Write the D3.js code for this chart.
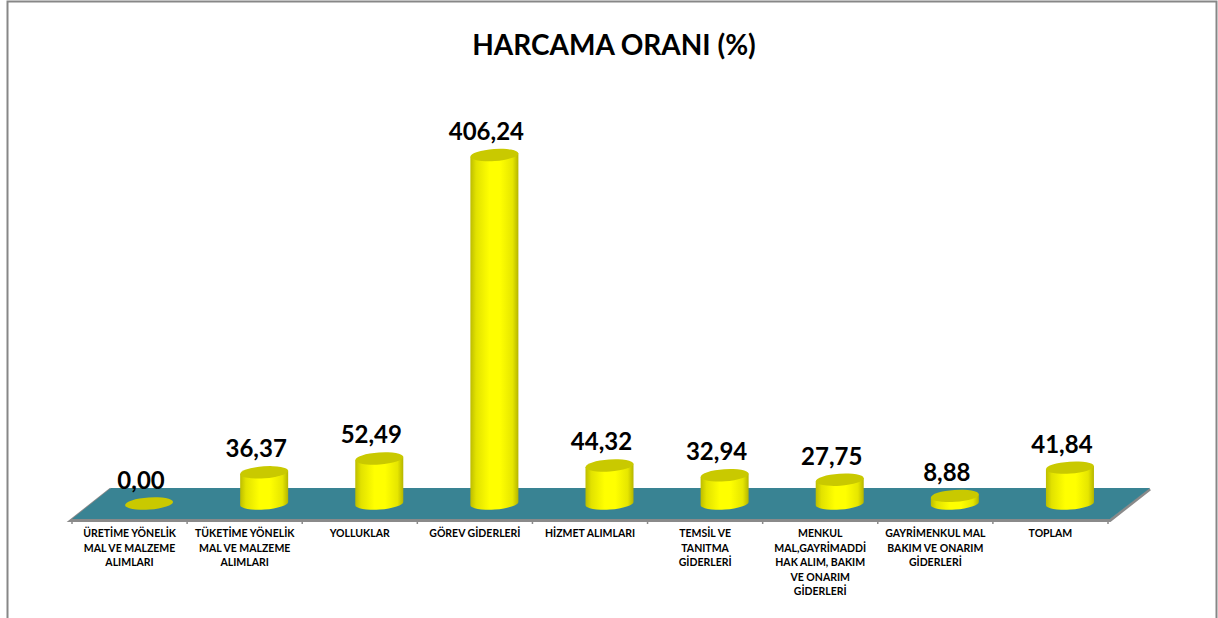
<!DOCTYPE html>
<html>
<head>
  <meta charset="utf-8">
  <title>Harcama Oranı</title>
  <script src="https://d3js.org/d3.v7.min.js"></script>
  <style>
    body { margin: 0; background: #fff; }
    text { font-family: Lato, "Open Sans", sans-serif; font-weight: bold; }
  </style>
</head>
<body>
<svg width="1218" height="618"></svg>
<script>
  const title = "HARCAMA ORANI (%)";
  const categories = [
    "ÜRETİME YÖNELİK\nMAL VE MALZEME\nALIMLARI",
    "TÜKETİME YÖNELİK\nMAL VE MALZEME\nALIMLARI",
    "YOLLUKLAR",
    "GÖREV GİDERLERİ",
    "HİZMET ALIMLARI",
    "TEMSİL VE\nTANITMA\nGİDERLERİ",
    "MENKUL\nMAL,GAYRİMADDİ\nHAK ALIM, BAKIM\nVE ONARIM\nGİDERLERİ",
    "GAYRİMENKUL MAL\nBAKIM VE ONARIM\nGİDERLERİ",
    "TOPLAM"
  ];
  const values = [0.00, 36.37, 52.49, 406.24, 44.32, 32.94, 27.75, 8.88, 41.84];

  const width = 1218;
  const height = 618;

  // floor front edge and depth offset (3d look)
  const floorLeft = 72, floorRight = 1108, floorY = 519;
  const depthX = 39, depthY = -31;

  const svg = d3.select("svg");

  // chart border
  svg.append("rect")
    .attr("x", 7.5).attr("y", 1.5)
    .attr("width", 1209).attr("height", 660)
    .attr("fill", "none")
    .attr("stroke", "#878787")
    .attr("stroke-width", 2);

  svg.append("text")
    .attr("x", 614).attr("y", 55)
    .attr("text-anchor", "middle")
    .attr("font-size", 28)
    .attr("fill", "#000")
    .text(title);

  const x = d3.scaleBand()
    .domain(categories)
    .range([floorLeft, floorRight])
    .padding(0);

  const y = d3.scaleLinear()
    .domain([0, 450])
    .range([0, 386]);

  // gradient for the cylinder sides
  const defs = svg.append("defs");
  const grad = defs.append("linearGradient")
    .attr("id", "cyl")
    .attr("x1", "0%").attr("x2", "100%")
    .attr("y1", "0%").attr("y2", "0%");
  grad.append("stop").attr("offset", "0%").attr("stop-color", "#bdbd00");
  grad.append("stop").attr("offset", "12%").attr("stop-color", "#e2e200");
  grad.append("stop").attr("offset", "40%").attr("stop-color", "#ffff00");
  grad.append("stop").attr("offset", "62%").attr("stop-color", "#ffff00");
  grad.append("stop").attr("offset", "88%").attr("stop-color", "#e6e600");
  grad.append("stop").attr("offset", "100%").attr("stop-color", "#b5b500");

  // floor slab
  const floorPts = [
    [floorLeft, floorY],
    [floorLeft + depthX, floorY + depthY],
    [floorRight + depthX + 3, floorY + depthY],
    [floorRight + 2, floorY]
  ];
  svg.append("polyline")
    .attr("points", [
      [floorLeft + depthX, floorY + depthY + 1],
      [floorLeft - 1, floorY + 1.5],
      [floorRight + 2, floorY + 1.5],
      [floorRight + depthX + 3, floorY + depthY + 1]
    ].map(p => p.join(",")).join(" "))
    .attr("fill", "none")
    .attr("stroke", "#8a8a8a")
    .attr("stroke-width", 3);
  svg.append("polygon")
    .attr("points", floorPts.map(p => p.join(",")).join(" "))
    .attr("fill", "#398393");

  // category ticks
  const ticks = categories.map(c => x(c)).concat([floorRight]);
  svg.selectAll(".tick")
    .data(ticks)
    .enter().append("line")
    .attr("class", "tick")
    .attr("x1", d => d).attr("x2", d => d)
    .attr("y1", floorY + 1).attr("y2", floorY + 5)
    .attr("stroke", "#8a8a8a")
    .attr("stroke-width", 1.5);

  // cylinders
  const rx = 24, ry = 6, tilt = -4;
  const bars = svg.selectAll(".bar")
    .data(values.map((v, i) => ({ value: v, cat: categories[i] })))
    .enter().append("g")
    .attr("class", "bar");

  const cx = d => x(d.cat) + x.bandwidth() / 2 + depthX / 2;
  const cy = floorY + depthY / 2;
  const topY = d => cy - y(d.value);

  bars.filter(d => d.value > 0).append("path")
    .attr("d", d => {
      const c = cx(d), t = topY(d);
      const a = tilt * Math.PI / 180;
      const dyl = -rx * Math.sin(a), dyr = rx * Math.sin(a);
      return "M" + (c - rx) + "," + (t + dyl) +
        "L" + (c - rx) + "," + (cy + dyl) +
        "A" + rx + "," + ry + " " + tilt + " 0 0 " + (c + rx) + "," + (cy + dyr) +
        "L" + (c + rx) + "," + (t + dyr) + "Z";
    })
    .attr("fill", "url(#cyl)");

  bars.append("ellipse")
    .attr("cx", d => cx(d))
    .attr("cy", d => topY(d))
    .attr("rx", rx)
    .attr("ry", ry)
    .attr("transform", d => "rotate(" + tilt + "," + cx(d) + "," + topY(d) + ")")
    .attr("fill", "#c9c900");

  // value labels
  bars.append("text")
    .attr("x", d => cx(d) - 8)
    .attr("y", d => topY(d) - ry - 9)
    .attr("text-anchor", "middle")
    .attr("font-size", 24)
    .attr("fill", "#000")
    .text(d => d3.format(".2f")(d.value).replace(".", ","));

  // category labels
  const labels = svg.selectAll(".cat")
    .data(categories)
    .enter().append("text")
    .attr("class", "cat")
    .attr("text-anchor", "middle")
    .attr("font-size", 10.5)
    .attr("fill", "#000");
  labels.each(function(d) {
    const t = d3.select(this);
    d.split("\n").forEach((line, i) => {
      t.append("tspan")
        .attr("x", x(d) + x.bandwidth() / 2)
        .attr("y", 537 + i * 14.5)
        .text(line);
    });
  });
</script>
</body>
</html>
